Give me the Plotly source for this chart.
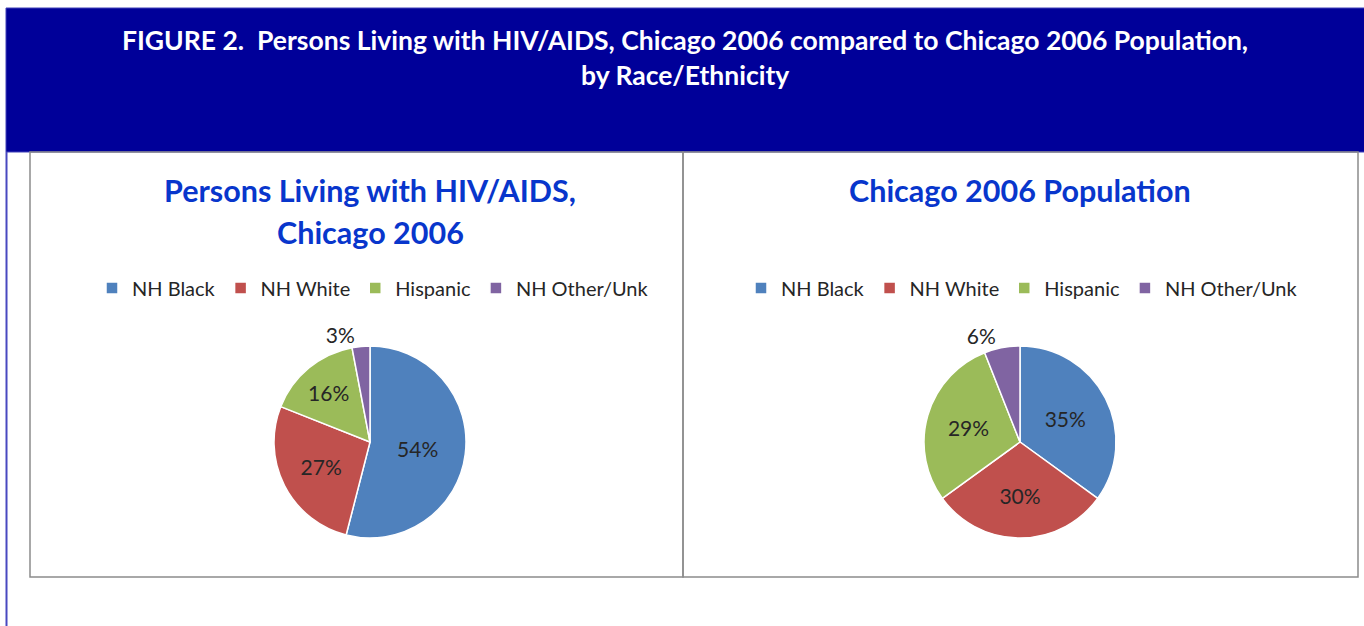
import plotly.graph_objects as go

W, H = 1364, 626

# ---- data ----
categories = ["NH Black", "NH White", "Hispanic", "NH Other/Unk"]
hiv_pct = [54, 27, 16, 3]
pop_pct = [35, 30, 29, 6]
colors = ["#4F81BD", "#C0504D", "#9BBB59", "#8064A2"]
header_lines = ["FIGURE 2.  Persons Living with HIV/AIDS, Chicago 2006 compared to Chicago 2006 Population,",
                "by Race/Ethnicity"]
left_title_lines = ["Persons Living with HIV/AIDS,", "Chicago 2006"]
right_title_lines = ["Chicago 2006 Population"]
text_pos_left = ["inside", "inside", "inside", "outside"]
text_pos_right = ["inside", "inside", "inside", "outside"]


def px(x):
    return x / W


def py(y):
    return 1 - y / H


FONT = "Lato"
LABEL_COLOR = "#262626"

fig = go.Figure()


def add_pie(labels, values, cx, cy, r, legend, group, tpos):
    fig.add_trace(go.Pie(
        labels=labels, values=values, sort=False, direction="clockwise", rotation=0,
        marker=dict(colors=colors, line=dict(color="white", width=1.5)),
        texttemplate="%{value}%", textinfo="text", textposition=tpos,
        insidetextorientation="horizontal",
        textfont=dict(family=FONT, size=21, color=LABEL_COLOR),
        insidetextfont=dict(family=FONT, size=21, color=LABEL_COLOR),
        outsidetextfont=dict(family=FONT, size=21, color=LABEL_COLOR),
        domain=dict(x=[px(cx - r), px(cx + r)], y=[py(cy + r), py(cy - r)]),
        legend=legend, legendgroup=group, hoverinfo="label+percent", automargin=False,
    ))


add_pie(categories, hiv_pct, 370, 442, 96, "legend", "hiv", text_pos_left)
add_pie([c + "\u200b" for c in categories], pop_pct, 1020, 442, 96, "legend2", "pop", text_pos_right)

shapes = [
    # header band
    dict(type="rect", xref="paper", yref="paper", x0=px(6), x1=px(1366), y0=py(152), y1=py(8),
         fillcolor="#000099", line=dict(color="#4040b8", width=1), layer="below"),
    # left outer border line
    dict(type="line", xref="paper", yref="paper", x0=px(6.5), x1=px(6.5), y0=py(152), y1=py(628),
         line=dict(color="#4848c0", width=2)),
    # chart panels
    dict(type="rect", xref="paper", yref="paper", x0=px(30), x1=px(683), y0=py(577), y1=py(152),
         line=dict(color="#8c8c8c", width=1.5)),
    dict(type="rect", xref="paper", yref="paper", x0=px(683), x1=px(1358), y0=py(577), y1=py(152),
         line=dict(color="#8c8c8c", width=1.5)),
]

annotations = []
for t, yy in zip(header_lines, [40, 75]):
    annotations.append(dict(text="<b>%s</b>" % t, x=px(685), y=py(yy), xref="paper", yref="paper",
                            showarrow=False, xanchor="center", yanchor="middle",
                            font=dict(family=FONT, size=26.5, color="white")))
for t, yy in zip(left_title_lines, [190, 232]):
    annotations.append(dict(text="<b>%s</b>" % t, x=px(370), y=py(yy), xref="paper", yref="paper",
                            showarrow=False, xanchor="center", yanchor="middle",
                            font=dict(family=FONT, size=30.5, color="#0836CC")))
for t, yy in zip(right_title_lines, [190]):
    annotations.append(dict(text="<b>%s</b>" % t, x=px(1020), y=py(yy), xref="paper", yref="paper",
                            showarrow=False, xanchor="center", yanchor="middle",
                            font=dict(family=FONT, size=30.5, color="#0836CC")))

legend_common = dict(orientation="h", xanchor="center", yanchor="middle",
                     font=dict(family=FONT, size=20, color="#262626"),
                     bgcolor="rgba(0,0,0,0)", itemwidth=30, traceorder="normal")

fig.update_layout(
    width=W, height=H, margin=dict(l=0, r=0, t=0, b=0),
    paper_bgcolor="white", plot_bgcolor="white",
    shapes=shapes, annotations=annotations,
    legend=dict(x=px(373), y=py(288), **legend_common),
    legend2=dict(x=px(1022), y=py(288), **legend_common),
    showlegend=True,
)

fig.write_html("out.html", config={"displayModeBar": False},
               post_script="document.body.style.margin='0';")
